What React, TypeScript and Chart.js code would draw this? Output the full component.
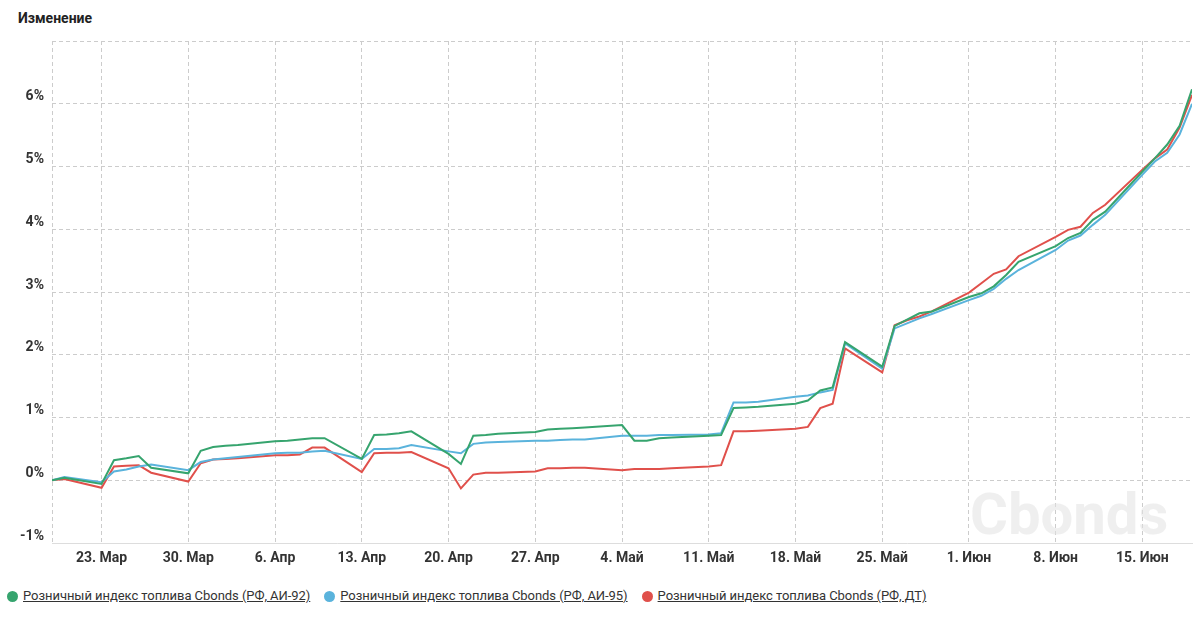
import React, { useEffect, useRef } from "react";
import { Chart, registerables } from "chart.js";

Chart.register(...registerables);

// Trading days (ISO dates)
const dates: string[] = [
  "2020-03-19", "2020-03-20", "2020-03-23", "2020-03-24", "2020-03-25", "2020-03-26", "2020-03-27",
  "2020-03-30", "2020-03-31", "2020-04-01", "2020-04-02", "2020-04-03",
  "2020-04-06", "2020-04-07", "2020-04-08", "2020-04-09", "2020-04-10",
  "2020-04-13", "2020-04-14", "2020-04-15", "2020-04-16", "2020-04-17",
  "2020-04-20", "2020-04-21", "2020-04-22", "2020-04-23", "2020-04-24",
  "2020-04-27", "2020-04-28", "2020-04-29", "2020-04-30", "2020-05-01",
  "2020-05-04", "2020-05-05", "2020-05-06", "2020-05-07", "2020-05-08",
  "2020-05-11", "2020-05-12", "2020-05-13", "2020-05-14", "2020-05-15",
  "2020-05-18", "2020-05-19", "2020-05-20", "2020-05-21", "2020-05-22",
  "2020-05-25", "2020-05-26", "2020-05-27", "2020-05-28", "2020-05-29",
  "2020-06-01", "2020-06-02", "2020-06-03", "2020-06-04", "2020-06-05",
  "2020-06-08", "2020-06-09", "2020-06-10", "2020-06-11", "2020-06-12",
  "2020-06-15", "2020-06-16", "2020-06-17", "2020-06-18", "2020-06-19",
];

const ai92: number[] = [
  0.0, 0.04, -0.06, 0.32, 0.35, 0.385, 0.2,
  0.11, 0.47, 0.53, 0.55, 0.56,
  0.62, 0.63, 0.65, 0.67, 0.67,
  0.34, 0.72, 0.73, 0.75, 0.78,
  0.42, 0.26, 0.71, 0.72, 0.74,
  0.77, 0.81, 0.82, 0.83, 0.84,
  0.88, 0.63, 0.63, 0.67, 0.68,
  0.71, 0.72, 1.15, 1.16, 1.17,
  1.22, 1.27, 1.43, 1.48, 2.2,
  1.81, 2.46, 2.56, 2.66, 2.69,
  2.92, 2.98, 3.09, 3.27, 3.48,
  3.73, 3.86, 3.94, 4.15, 4.28,
  4.92, 5.13, 5.35, 5.65, 6.23,
];

const ai95: number[] = [
  0.0, 0.05, -0.03, 0.14, 0.17, 0.22, 0.25,
  0.16, 0.29, 0.33, 0.35, 0.37,
  0.43, 0.44, 0.44, 0.46, 0.47,
  0.34, 0.5, 0.5, 0.51, 0.56,
  0.46, 0.43, 0.58, 0.6, 0.61,
  0.63, 0.63, 0.64, 0.65, 0.65,
  0.71, 0.71, 0.71, 0.72, 0.72,
  0.73, 0.75, 1.24, 1.24, 1.25,
  1.33, 1.35, 1.4, 1.44, 2.18,
  1.78, 2.42, 2.5, 2.58, 2.65,
  2.87, 2.94, 3.05, 3.21, 3.35,
  3.67, 3.82, 3.9, 4.07, 4.23,
  4.87, 5.08, 5.22, 5.51, 6.0,
];

const dt: number[] = [
  0.0, 0.02, -0.12, 0.22, 0.23, 0.24, 0.12,
  -0.02, 0.27, 0.33, 0.34, 0.35,
  0.4, 0.4, 0.41, 0.52, 0.52,
  0.13, 0.43, 0.44, 0.44, 0.45,
  0.19, -0.13, 0.09, 0.12, 0.12,
  0.14, 0.19, 0.19, 0.2, 0.2,
  0.16, 0.18, 0.18, 0.18, 0.19,
  0.22, 0.24, 0.78, 0.78, 0.79,
  0.82, 0.85, 1.15, 1.22, 2.1,
  1.72, 2.47, 2.55, 2.61, 2.69,
  2.99, 3.14, 3.29, 3.36, 3.57,
  3.88, 3.99, 4.04, 4.26, 4.39,
  4.95, 5.13, 5.27, 5.62, 6.14,
];

const seriesNames: string[] = [
  "Розничный индекс топлива Cbonds (РФ, АИ-92)",
  "Розничный индекс топлива Cbonds (РФ, АИ-95)",
  "Розничный индекс топлива Cbonds (РФ, ДТ)",
];
const seriesColors: string[] = ["#36a46e", "#5ab3dc", "#e0504b"];

const tickDates: string[] = [
  "2020-03-19",
  "2020-03-23", "2020-03-30", "2020-04-06", "2020-04-13", "2020-04-20", "2020-04-27",
  "2020-05-04", "2020-05-11", "2020-05-18", "2020-05-25", "2020-06-01", "2020-06-08", "2020-06-15",
];
const monthNames: string[] = ["Янв", "Фев", "Мар", "Апр", "Май", "Июн", "Июл", "Авг", "Сен", "Окт", "Ноя", "Дек"];
const yTicks: number[] = [-1, 0, 1, 2, 3, 4, 5, 6, 7];

const DAY = 86400000;
const toTs = (s: string) => Date.UTC(+s.slice(0, 4), +s.slice(5, 7) - 1, +s.slice(8, 10));
const t0 = toTs(dates[0]);
const dayIdx = (s: string) => Math.round((toTs(s) - t0) / DAY);
const fmtDay = (d: number) => {
  if (d === 0) return "";
  const dd = new Date(t0 + d * DAY);
  return dd.getUTCDate() + ". " + monthNames[dd.getUTCMonth()];
};

const FONT = "Roboto, 'Noto Sans', sans-serif";

export default function App() {
  const ref = useRef<HTMLCanvasElement | null>(null);

  useEffect(() => {
    document.body.style.margin = "0";
    if (!ref.current) return;
    const xs = dates.map(dayIdx);
    const all = [ai92, ai95, dt];
    const watermark = {
      id: "watermark",
      beforeDatasetsDraw(chart: any) {
        const ctx = chart.ctx;
        ctx.save();
        ctx.font = "bold 58px " + FONT;
        ctx.fillStyle = "rgba(225,225,225,0.55)";
        ctx.textAlign = "left";
        ctx.textBaseline = "alphabetic";
        ctx.fillText("Cbonds", 970, 534);
        ctx.restore();
      },
    };
    const chart = new Chart(ref.current, {
      type: "line",
      data: {
        datasets: all.map((vals, i) => ({
          label: seriesNames[i],
          data: vals.map((v, j) => ({ x: xs[j], y: v })),
          borderColor: seriesColors[i],
          backgroundColor: seriesColors[i],
          borderWidth: 2,
          pointRadius: 0,
          tension: 0,
          fill: false,
        })),
      },
      options: {
        animation: false,
        responsive: false,
        maintainAspectRatio: false,
        layout: { padding: { top: 41, right: 10, left: 0, bottom: 0 } },
        plugins: {
          legend: { display: false },
          tooltip: { enabled: false },
        },
        scales: {
          x: {
            type: "linear",
            min: 0,
            max: dayIdx(dates[dates.length - 1]),
            afterBuildTicks: (scale: any) => {
              scale.ticks = tickDates.map((d) => ({ value: dayIdx(d) }));
            },
            afterFit: (scale: any) => {
              scale.height = 32;
            },
            ticks: {
              callback: (v: any) => fmtDay(Number(v)),
              color: "#333333",
              font: { family: FONT, size: 14, weight: "bold" },
              padding: 7,
              maxRotation: 0,
              autoSkip: false,
            },
            grid: {
              color: "#cccccc",
              drawTicks: false,
              lineWidth: 1,
            },
            border: { display: true, color: "#dddddd", dash: [4, 3] },
          },
          y: {
            type: "linear",
            min: -1,
            max: 7,
            afterBuildTicks: (scale: any) => {
              scale.ticks = yTicks.map((v) => ({ value: v }));
            },
            afterFit: (scale: any) => {
              scale.width = 52;
            },
            ticks: {
              callback: (v: any) => (Number(v) === 7 ? "" : v + "%"),
              color: "#333333",
              font: { family: FONT, size: 14, weight: "bold" },
              padding: 8,
              labelOffset: -7,
            },
            grid: {
              color: (c: any) => (c.tick && c.tick.value === -1 ? "rgba(0,0,0,0)" : "#cccccc"),
              drawTicks: false,
              lineWidth: 1,
            },
            border: { display: false, dash: [4, 3] },
          },
        },
      },
      plugins: [watermark],
    } as any);
    return () => chart.destroy();
  }, []);

  return (
    <div style={{ position: "absolute", left: 0, top: 0, width: 1202, height: 619, background: "#fff", fontFamily: FONT }}>
      <div style={{ position: "absolute", left: 18, top: 10, fontSize: 14, fontWeight: 700, color: "#222" }}>Изменение</div>
      <canvas ref={ref} width={1202} height={575} style={{ position: "absolute", left: 0, top: 0, width: 1202, height: 575 }} />
      <div style={{ position: "absolute", left: 0, top: 587, display: "flex", alignItems: "center", fontSize: 13, color: "#333", whiteSpace: "nowrap" }}>
        {seriesNames.map((n, i) => (
          <div key={i} style={{ display: "flex", alignItems: "center", marginLeft: i === 0 ? 7 : 14 }}>
            <span style={{ display: "inline-block", width: 11, height: 11, borderRadius: "50%", background: seriesColors[i], marginRight: 5 }} />
            <span style={{ textDecoration: "underline", lineHeight: "18px", letterSpacing: "-0.05px" }}>{n}</span>
          </div>
        ))}
      </div>
    </div>
  );
}
